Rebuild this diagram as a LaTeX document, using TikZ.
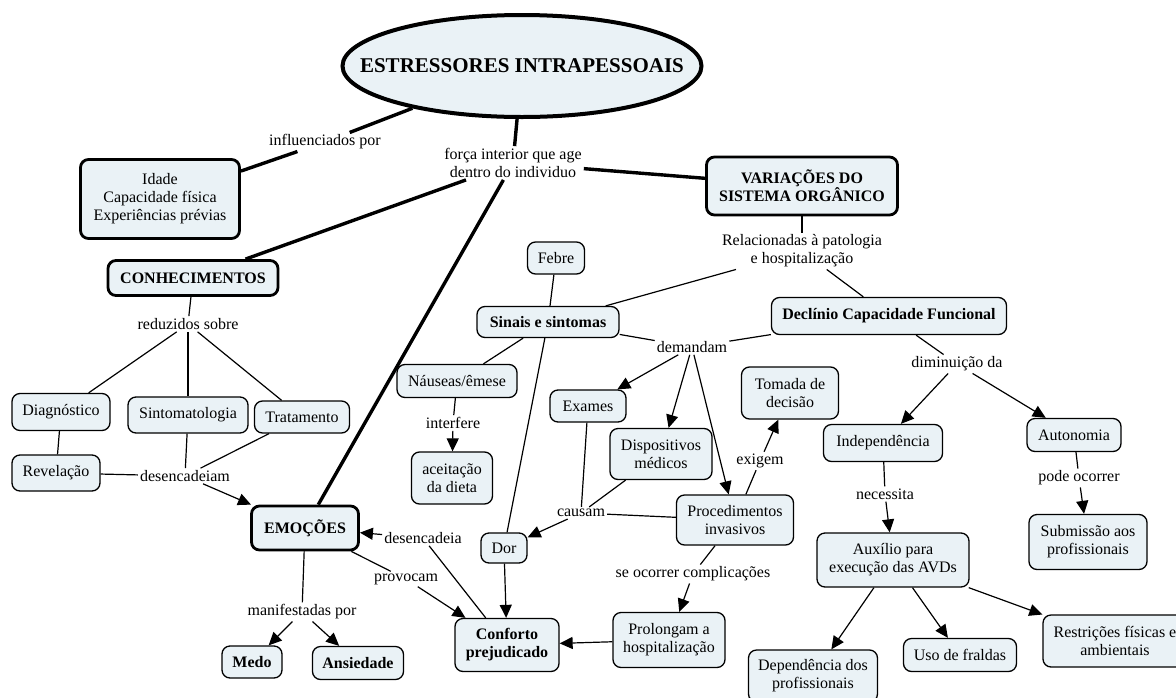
\documentclass[tikz,border=0pt]{standalone}
\usepackage{fontspec}
\setmainfont{Liberation Serif}
\usetikzlibrary{shapes.geometric,arrows.meta}
\definecolor{boxfill}{RGB}{234,242,246}
\begin{document}
\begin{tikzpicture}[x=1pt,y=-1pt,
  every node/.style={font=\fontsize{16}{18}\selectfont, align=center},
  box/.style 2 args={draw, fill=boxfill, rounded corners=8pt, line width=1.3pt,
    minimum width=#1pt, minimum height=#2pt, inner sep=1pt},
  tbox/.style 2 args={box={#1}{#2}, line width=2.8pt},
  bf/.style={font=\fontsize{16}{18}\selectfont\bfseries},
  lab/.style={inner sep=2pt},
  ln/.style={line width=1.2pt},
  tk/.style={line width=3.4pt},
  ar/.style={line width=1.2pt, -{Triangle[length=13pt,width=12pt]}}]
\path[use as bounding box] (0,0) rectangle (1176,697);

% main ellipse
\node[ellipse, draw, fill=boxfill, line width=4pt, minimum width=359pt, minimum height=102pt,
  inner xsep=-40pt, inner ysep=0pt, font=\fontsize{21}{25}\selectfont\bfseries] (title) at (522,66) {ESTRESSORES INTRAPESSOAIS};

% nodes
\node[tbox={159}{79}] (idade) at (160,199) {Idade\\Capacidade física\\Experiências prévias};
\node[lab] (influ) at (325,142) {influenciados por};
\node[lab] (forca) at (513,163) {força interior que age\\dentro do individuo};
\node[tbox={191}{58}, bf] (var) at (802,186) {VARIAÇÕES DO\\SISTEMA ORGÂNICO};
\node[lab] (relac) at (802,251) {Relacionadas à patologia\\e hospitalização};
\node[box={235}{37}, bf] (decl) at (889,316) {Declínio Capacidade Funcional};
\node[tbox={170}{35}, bf] (conhec) at (193,278) {CONHECIMENTOS};
\node[lab] (reduz) at (188,324) {reduzidos sobre};
\node[box={98}{37}] (diag) at (61,412) {Diagnóstico};
\node[box={120}{36}] (sintomat) at (188,415) {Sintomatologia};
\node[box={95}{32}] (trat) at (302,417) {Tratamento};
\node[box={88}{36}] (revel) at (56,473) {Revelação};
\node[lab] (desenc) at (185,476) {desencadeiam};
\node[tbox={107}{44}, bf] (emoc) at (305,528) {EMOÇÕES};
\node[lab] (desenc2) at (423,538) {desencadeia};
\node[lab] (provoc) at (406,579) {provocam};
\node[lab] (manif) at (302,612) {manifestadas por};
\node[box={60}{32}, bf] (medo) at (252,662) {Medo};
\node[box={91}{33}, bf] (ansied) at (358,663) {Ansiedade};
\node[box={104}{53}, bf] (conforto) at (507,645) {Conforto\\prejudicado};
\node[box={46}{30}] (dor) at (504,548) {Dor};
\node[box={142}{31}, bf] (sinais) at (548,322) {Sinais e sintomas};
\node[box={57}{32}] (febre) at (556,258) {Febre};
\node[box={120}{33}] (nauseas) at (457,381) {Náuseas/êmese};
\node[lab] (interf) at (453,423) {interfere};
\node[box={81}{52}] (aceit) at (452,478) {aceitação\\da dieta};
\node[lab] (demand) at (692,347) {demandam};
\node[box={76}{32}] (exames) at (588,406) {Exames};
\node[box={102}{51}] (disp) at (661,454) {Dispositivos\\médicos};
\node[box={117}{50}] (proc) at (735,520) {Procedimentos\\invasivos};
\node[box={97}{52}] (tomada) at (790,393) {Tomada de\\decisão};
\node[lab] (exigem) at (760,461) {exigem};
\node[lab] (causam) at (581,513) {causam};
\node[lab] (seocor) at (693,574) {se ocorrer complicações};
\node[box={112}{55}] (prolong) at (669,640) {Prolongam a\\hospitalização};
\node[lab] (dimin) at (957,364) {diminuição da};
\node[box={119}{37}] (indep) at (883,443) {Independência};
\node[box={94}{33}] (auton) at (1074,435) {Autonomia};
\node[lab] (necess) at (885,494) {necessita};
\node[lab] (podeoc) at (1079,478) {pode ocorrer};
\node[box={118}{55}] (subm) at (1088,542) {Submissão aos\\profissionais};
\node[box={152}{54}] (auxil) at (893,560) {Auxílio para\\execução das AVDs};
\node[box={129}{52}] (depend) at (813,676) {Dependência dos\\profissionais};
\node[box={113}{33}] (uso) at (960,655) {Uso de fraldas};
\node[box={144}{52}] (restr) at (1115,641) {Restrições físicas e\\ambientais};

% thick connectors
\draw[tk] (title) -- (influ);
\draw[tk] (influ) -- (idade);
\draw[tk] (title) -- (forca);
\draw[tk] (forca) -- (var);
\draw[tk] (forca) -- (conhec);
\draw[tk] (forca) -- (emoc);

% thin connectors
\draw[ln] (var) -- (relac);
\draw[ln] (relac) -- (sinais);
\draw[ln] (relac) -- (decl);
\draw[ln] (conhec) -- (reduz);
\draw[ln] (reduz) -- (diag);
\draw[ln] (reduz) -- (sintomat);
\draw[ln] (reduz) -- (trat);
\draw[ln] (diag) -- (revel);
\draw[ln] (revel) -- (desenc);
\draw[ln] (sintomat) -- (desenc);
\draw[ln] (trat) -- (desenc);
\draw[ar] (desenc) -- (emoc);
\draw[ln] (conforto) -- (desenc2);
\draw[ar] (desenc2) -- (emoc);
\draw[ln] (emoc) -- (provoc);
\draw[ar] (provoc) -- (conforto);
\draw[ln] (emoc) -- (manif);
\draw[ar] (manif) -- (medo);
\draw[ar] (manif) -- (ansied);
\draw[ln] (febre) -- (sinais);
\draw[ln] (sinais) -- (nauseas);
\draw[ln] (nauseas) -- (interf);
\draw[ar] (interf) -- (aceit);
\draw[ln] (sinais) -- (dor);
\draw[ar] (dor) -- (conforto);
\draw[ln] (sinais) -- (demand);
\draw[ln] (decl) -- (demand);
\draw[ar] (demand) -- (exames);
\draw[ar] (demand) -- (disp);
\draw[ar] (demand) -- (proc);
\draw[ln] (exames) -- (causam);
\draw[ln] (disp) -- (causam);
\draw[ln] (proc) -- (causam);
\draw[ar] (causam) -- (dor);
\draw[ln] (proc) -- (exigem);
\draw[ar] (exigem) -- (tomada);
\draw[ln] (proc) -- (seocor);
\draw[ar] (seocor) -- (prolong);
\draw[ar] (prolong) -- (conforto);
\draw[ln] (decl) -- (dimin);
\draw[ar] (dimin) -- (indep);
\draw[ar] (dimin) -- (auton);
\draw[ln] (indep) -- (necess);
\draw[ar] (necess) -- (auxil);
\draw[ln] (auton) -- (podeoc);
\draw[ar] (podeoc) -- (subm);
\draw[ar] (auxil) -- (depend);
\draw[ar] (auxil) -- (uso);
\draw[ar] (auxil) -- (restr);
\end{tikzpicture}
\end{document}
